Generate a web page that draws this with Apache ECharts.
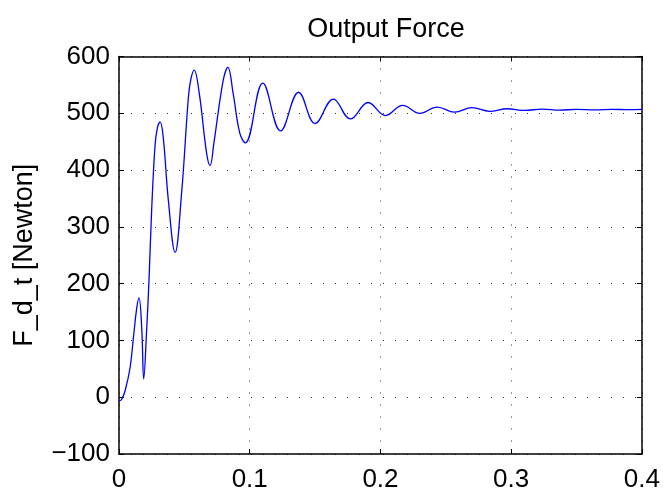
<!DOCTYPE html>
<html>
<head>
<meta charset="utf-8">
<title>Output Force</title>
<script src="https://cdn.jsdelivr.net/npm/echarts@6/dist/echarts.min.js"></script>
<style>
  html, body { margin: 0; padding: 0; background: #fff; }
  #chart { width: 663px; height: 493px; }
</style>
</head>
<body>
<div id="chart"></div>
<script>
// time [s] and force [N]
var timeS = [
  0, 0.002, 0.0046, 0.0084, 0.011, 0.0135, 0.0153, 0.0174, 0.0189, 0.0212,
  0.023, 0.025, 0.0275, 0.0293, 0.0314, 0.0338, 0.0377, 0.0429, 0.0479, 0.0529,
  0.0548, 0.0575, 0.0614, 0.067, 0.0697, 0.0726, 0.0797, 0.0833, 0.0873, 0.0924,
  0.0966, 0.110, 0.1236, 0.1374, 0.150, 0.164,
  0.177, 0.1906, 0.2038, 0.217, 0.230, 0.2434, 0.2567, 0.270, 0.2835, 0.297,
  0.310, 0.324, 0.337, 0.350, 0.364, 0.377, 0.390, 0.400
];
var forceN = [
  -7, -4, 11, 51, 104, 156, 175, 121, 32, 121,
  209, 331, 441, 474, 485, 459, 348, 255, 360, 523,
  558, 576, 535, 430, 408, 448, 558, 581, 535, 465,
  448, 553, 469, 537, 482, 525,
  490, 519, 496, 514, 500, 511, 502, 510, 503.5, 508,
  505, 507.5, 505.5, 507, 506, 507, 506.3, 506.8
];
var xTicks = { min: 0, max: 0.4, step: 0.1 };
var yTicks = { min: -100, max: 600, step: 100 };

var FONT = 'Liberation Sans, Arial, Helvetica, sans-serif';

var points = timeS.map(function (t, i) { return [t, forceN[i]]; });

function fmt(v) {
  return String(v).replace('-', '\u2212');
}

var chart = echarts.init(document.getElementById('chart'));

var dots = { color: '#333', width: 1, type: [1, 11] };
var frame = { show: true, onZero: false, lineStyle: { color: '#000', width: 1.5 } };
var tick = { show: true, inside: true, length: 5, lineStyle: { color: '#000', width: 1 } };

chart.setOption({
  backgroundColor: '#fff',
  animation: false,
  title: {
    text: 'Output Force',
    left: 381,
    top: 11,
    textAlign: 'center',
    textStyle: { fontFamily: FONT, fontSize: 27, fontWeight: 'normal', color: '#000' }
  },
  grid: { left: 119, right: 20.5, top: 56.5, bottom: 36.5 },
  xAxis: [{
    type: 'value',
    min: xTicks.min, max: xTicks.max, interval: xTicks.step,
    axisLine: frame,
    axisTick: tick,
    axisLabel: { fontFamily: FONT, fontSize: 26, color: '#000', margin: 13, formatter: fmt },
    splitLine: { show: true, lineStyle: dots }
  }, {
    type: 'value', position: 'top',
    min: xTicks.min, max: xTicks.max, interval: xTicks.step,
    axisLine: frame, axisTick: tick,
    axisLabel: { show: false }, splitLine: { show: false }
  }],
  yAxis: [{
    type: 'value',
    min: yTicks.min, max: yTicks.max, interval: yTicks.step,
    name: 'F_d_t [Newton]',
    nameLocation: 'middle',
    nameGap: 81,
    nameTextStyle: { fontFamily: FONT, fontSize: 27, color: '#000' },
    axisLine: frame,
    axisTick: tick,
    axisLabel: { fontFamily: FONT, fontSize: 26, color: '#000', margin: 9, formatter: fmt },
    splitLine: { show: true, lineStyle: dots }
  }, {
    type: 'value', position: 'right',
    min: yTicks.min, max: yTicks.max, interval: yTicks.step,
    axisLine: frame, axisTick: tick,
    axisLabel: { show: false }, splitLine: { show: false }
  }],
  series: [{
    type: 'line',
    data: points,
    smooth: 0.4,
    showSymbol: false,
    lineStyle: { color: '#0000ff', width: 1.3 },
    z: 5
  }]
});
</script>
</body>
</html>
